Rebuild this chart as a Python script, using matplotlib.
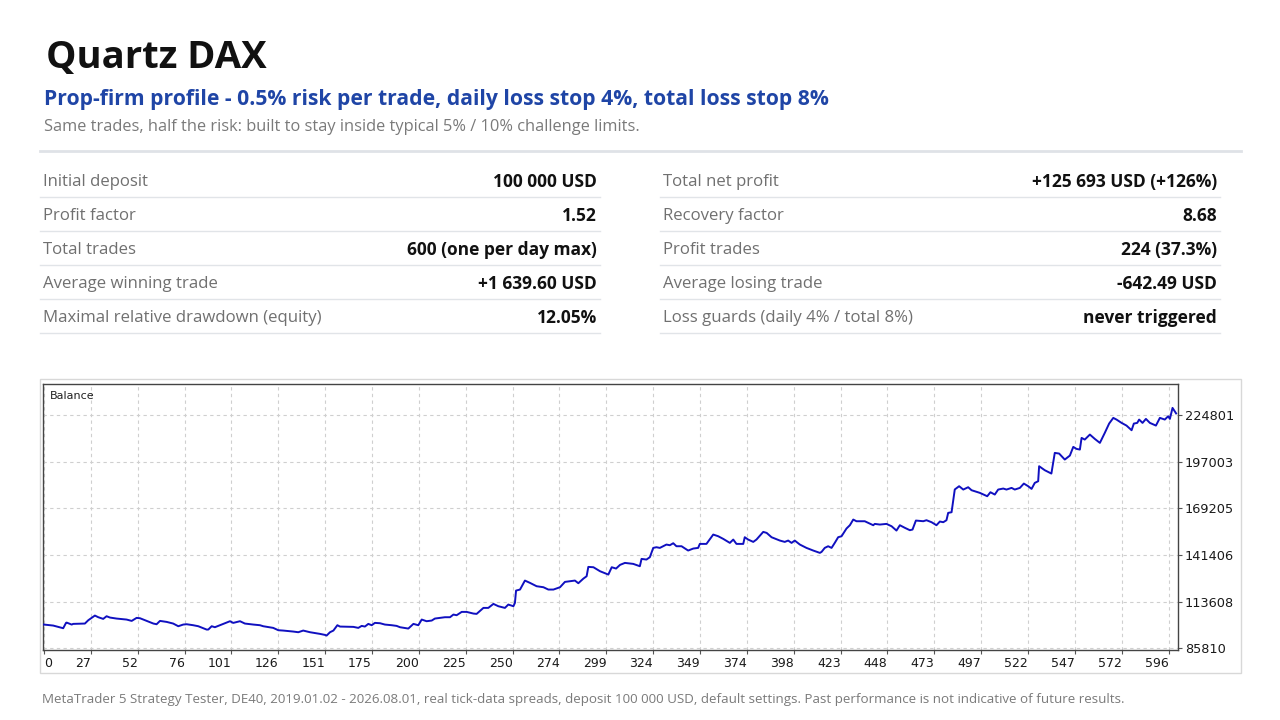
import matplotlib
matplotlib.use("Agg")
import matplotlib.pyplot as plt
from matplotlib.patches import Rectangle
import numpy as np

W, H = 1280, 720

title = "Quartz DAX"
subtitle = "Prop-firm profile - 0.5% risk per trade, daily loss stop 4%, total loss stop 8%"
tagline = "Same trades, half the risk: built to stay inside typical 5% / 10% challenge limits."
footer = ("MetaTrader 5 Strategy Tester, DE40, 2019.01.02 - 2026.08.01, real tick-data spreads, "
          "deposit 100 000 USD, default settings. Past performance is not indicative of future results.")

left_labels = ["Initial deposit", "Profit factor", "Total trades",
               "Average winning trade", "Maximal relative drawdown (equity)"]
left_values = ["100 000 USD", "1.52", "600 (one per day max)", "+1 639.60 USD", "12.05%"]
right_labels = ["Total net profit", "Recovery factor", "Profit trades",
                "Average losing trade", "Loss guards (daily 4% / total 8%)"]
right_values = ["+125 693 USD (+126%)", "8.68", "224 (37.3%)", "-642.49 USD", "never triggered"]

# balance curve (trade number, balance USD)
trade_no = [0, 4.9, 10.2, 11.7, 12.0, 14.7, 15.5, 21.7, 23.5, 27.0, 28.8, 31.4, 33.2, 35.0,
            38.5, 43.8, 46.5, 49.1, 50.9, 54.4, 58.0, 59.7, 61.5, 65.0, 68.5, 71.2, 73.8,
            75.6, 79.1, 81.8, 86.2, 87.1, 88.9, 90.6, 94.2, 98.6, 100.3, 103.9, 106.5, 111.0,
            114.5, 116.2, 121.5, 124.2, 126.8, 132.1, 134.8, 137.4, 141.0, 146.3, 148.9, 149.8,
            151.6, 153.4, 155.5, 156.9, 164.0, 166.6, 168.4, 170.1, 171.9, 173.7, 175.4, 178.1,
            180.7, 184.3, 186.9, 188.7, 193.1, 195.8, 198.4, 200.2, 202.8, 205.5, 207.2, 212.5,
            215.2, 217.0, 218.7, 221.4, 224.0, 227.6, 229.3, 232.9, 235.5, 238.2, 240.8, 244.3,
            246.1, 248.8, 249.6, 250.2, 252.3, 254.9, 257.6, 261.1, 264.7, 267.3, 270.0, 273.5,
            276.1, 278.8, 281.4, 283.2, 285.9, 287.6, 288.5, 291.2, 294.7, 299.1, 300.9, 303.2,
            305.3, 307.9, 312.3, 315.8, 316.7, 319.3, 321.1, 322.9, 324.6, 326.4, 329.9, 331.7,
            333.5, 335.2, 337.9, 341.4, 344.1, 346.7, 347.6, 351.1, 354.7, 357.3, 360.0, 363.5,
            365.3, 367.0, 370.6, 371.4, 373.2, 375.9, 377.6, 381.2, 383.0, 385.6, 390.0, 392.6,
            394.4, 396.2, 397.9, 400.6, 404.1, 407.7, 411.2, 412.1, 413.8, 415.6, 417.4, 419.1,
            420.9, 422.7, 424.4, 425.3, 427.1, 428.9, 430.6, 435.0, 439.5, 440.3, 443.0, 446.5,
            449.2, 451.8, 453.6, 456.3, 458.9, 460.3, 462.1, 466.0, 467.7, 470.4, 473.0, 474.8,
            476.6, 478.3, 479.2, 481.0, 482.7, 485.0, 487.2, 489.8, 491.6, 496.0, 499.9, 501.6,
            503.9, 505.7, 508.4, 510.1, 512.8, 514.5, 517.2, 519.3, 521.6, 523.4, 525.1, 526.9,
            527.4, 530.4, 533.9, 535.7, 538.0, 541.0, 543.7, 545.5, 547.2, 549.0, 549.9, 551.6,
            554.3, 556.9, 559.6, 562.2, 564.5, 566.7, 568.4, 571.1, 573.7, 576.4, 577.6, 579.4,
            580.4, 582.2, 584.0, 586.1, 589.3, 591.4, 594.0, 595.8, 596.7, 598.1, 600.0]
balance = [100000, 99410, 97820, 101000, 101190, 100000, 100400, 100600, 102580, 105360, 104370,
           103380, 104960, 104170, 103570, 102980, 102180, 103970, 103770, 102180, 100600, 100200,
           102180, 101590, 100600, 99010, 100000, 100200, 99610, 99010, 97030, 97030, 99010, 98420,
           100000, 101990, 100990, 101990, 100600, 100000, 99610, 99010, 98020, 96630, 96430, 95840,
           95440, 96430, 95440, 94450, 93850, 93450, 95440, 96430, 99610, 98810, 98620, 98020, 99210,
           98810, 100400, 99610, 101000, 100800, 100000, 99610, 99210, 98420, 97620, 100400, 99610,
           102980, 101990, 102390, 103580, 104370, 104370, 105960, 105560, 107540, 107540, 106550,
           106350, 109920, 109920, 112310, 110920, 109920, 111910, 110920, 112900, 120240, 120840,
           126190, 124800, 122820, 122230, 120840, 120840, 122230, 125400, 125800, 126190, 124610,
           127380, 128770, 134330, 134130, 131750, 129760, 134130, 133340, 135530, 136710, 136120,
           134730, 139090, 138700, 140090, 145640, 146040, 145640, 147630, 147230, 148420, 146630,
           146630, 144060, 145250, 145640, 148020, 148020, 153580, 152590, 151000, 148620, 150600,
           148020, 148020, 151990, 150600, 149210, 150600, 155170, 154570, 151990, 150010, 149210,
           150010, 148620, 150010, 147630, 145640, 144060, 142670, 143260, 145640, 146630, 145640,
           148620, 151990, 152590, 155560, 157150, 159130, 162510, 161510, 161510, 159130, 159930,
           159530, 159930, 158540, 155960, 159130, 157560, 156170, 156560, 161920, 161520, 162120,
           160930, 159140, 161330, 160930, 162120, 166480, 166880, 180420, 182360, 180370, 181760,
           179970, 178390, 176400, 178780, 177400, 180370, 180970, 180370, 181360, 180370, 181360,
           183940, 182360, 180770, 184340, 185330, 194260, 191880, 189890, 202200, 201800, 198230,
           200610, 205770, 204580, 204180, 211120, 210130, 213110, 210530, 208150, 214100, 219650,
           223030, 222040, 220050, 218460, 215690, 219650, 220050, 222040, 220050, 222430, 220050,
           218460, 223030, 222040, 224020, 222430, 228980, 225693]

y_ticks = [85810, 113608, 141406, 169205, 197003, 224801]
x_tick_labels = ["0", "27", "52", "76", "101", "126", "151", "175", "200", "225", "250", "274",
                 "299", "324", "349", "374", "398", "423", "448", "473", "497", "522", "547",
                 "572", "596"]


def fx(px):
    return px / W


def fy(py):
    return 1 - py / H


plt.rcParams['font.family'] = ['Open Sans', 'DejaVu Sans']

fig = plt.figure(figsize=(12.8, 7.2), dpi=100)
fig.patch.set_facecolor('white')

# header
fig.text(fx(46), fy(58), title, fontsize=27.5, fontweight='bold', color='#111111', va='center')
fig.text(fx(44), fy(99), subtitle, fontsize=15.2, fontweight='bold', color='#1f45a6', va='center')
fig.text(fx(44), fy(127), tagline, fontsize=11.8, color='#7a7a7a', va='center')
fig.add_artist(plt.Line2D([fx(40), fx(1241)], [fy(151), fy(151)], color='#dfe2e7', lw=2))

# stats table
row_y = [182, 216, 250, 284, 318]
for labels, values, x0, x1 in [(left_labels, left_values, 40, 600),
                               (right_labels, right_values, 660, 1220)]:
    for i, (lab, val) in enumerate(zip(labels, values)):
        fig.text(fx(x0 + 3), fy(row_y[i]), lab, fontsize=12.1, color='#707070', va='center')
        fig.text(fx(x1 - 3), fy(row_y[i]), val, fontsize=12.5, fontweight='bold',
                 color='#111111', va='center', ha='right')
        fig.add_artist(plt.Line2D([fx(x0), fx(x1)], [fy(row_y[i] + 15), fy(row_y[i] + 15)],
                                  color='#e1e4e8', lw=1))

# chart frame like the tester screenshot
frame = Rectangle((fx(40), fy(673)), fx(1241) - fx(40), fy(379) - fy(673),
                  transform=fig.transFigure, facecolor='white', edgecolor='#d8d8d8', lw=1, zorder=-5)
fig.add_artist(frame)

ax = fig.add_axes([fx(43), fy(650), fx(1178) - fx(43), fy(384) - fy(650)])
ax.set_zorder(5)
ax.plot(trade_no, balance, color='#1010c0', lw=1.4, zorder=3)

ax.set_xlim(-0.5, 601)
ax.set_ylim(84858, 243208)

xt = np.linspace(0, 596, len(x_tick_labels))
ax.set_xticks(xt)
ax.set_xticklabels(x_tick_labels, fontsize=9, family='DejaVu Sans', color='#1a1a1a')
for i, t in enumerate(ax.get_xticklabels()):
    t.set_ha('left' if i == 0 else 'right')
ax.set_yticks(y_ticks)
ax.set_yticklabels([str(v) for v in y_ticks], fontsize=9.3, family='DejaVu Sans', color='#1a1a1a')
ax.yaxis.tick_right()
ax.tick_params(axis='both', direction='out', length=3, width=0.8, color='#555555')
ax.tick_params(axis='x', pad=2)
ax.tick_params(axis='y', pad=2)

ax.grid(True, color='#cfcfcf', linestyle=(0, (3, 3)), lw=0.8)
for s in ax.spines.values():
    s.set_color('#444444')
    s.set_linewidth(1)

ax.text(0.006, 0.975, "Balance", transform=ax.transAxes, fontsize=8, family='DejaVu Sans',
        color='#202020', va='top', ha='left')

fig.text(fx(42), fy(700), footer, fontsize=9.65, color='#7a7a7a', va='center')

fig.savefig('out.png', dpi=100, facecolor='white')
